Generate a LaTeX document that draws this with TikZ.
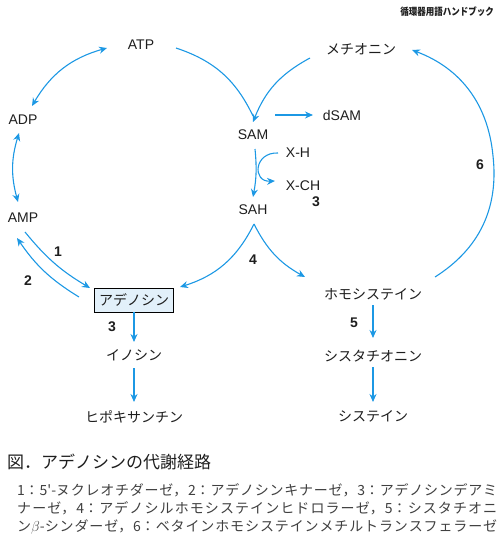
\documentclass[tikz,border=0pt]{standalone}
\usepackage{fontspec}
\usetikzlibrary{arrows.meta}
\setmainfont{Liberation Sans}
\newfontfamily\jpfont{Noto Sans CJK JP}
\XeTeXlinebreaklocale "ja"
\XeTeXlinebreakskip=0pt plus 1pt
\definecolor{flowblue}{RGB}{28,152,228}
\definecolor{boxblue}{RGB}{226,240,250}
\definecolor{ink}{RGB}{30,30,30}
\begin{document}
\begin{tikzpicture}
    [x=1pt,y=-1pt,
     mol/.style={font=\fontsize{14}{16}\selectfont,text=ink,inner sep=2pt},
     jmol/.style={font=\jpfont\fontsize{14}{16}\selectfont,text=ink,inner sep=2pt},
     enz/.style={font=\bfseries\fontsize{14}{16}\selectfont,text=ink,inner sep=1pt},
     capline/.style={font=\jpfont\fontsize{14}{16}\selectfont,text=ink!85,anchor=west,inner sep=0pt},
     link/.style={draw=flowblue,line width=1.1pt},
     flow/.style={link,-{Stealth[length=8pt,width=7pt]}},
     dflow/.style={link,{Stealth[length=8pt,width=7pt]}-{Stealth[length=8pt,width=7pt]}}]

    \useasboundingbox (0,0) rectangle (500,540);

    \foreach \name/\x/\y in {ATP/141/45, ADP/23/120, AMP/23/218, SAM/253/135, dSAM/342/115, SAH/253/210}
      \node[mol] (\name) at (\x,\y) {\name};
    \node[mol] (XH) at (298,153) {X-H};
    \node[mol] (XCH) at (303,186) {X-CH};

    \foreach \name/\x/\y/\text in {MET/361/49/メチオニン, HCY/373/294/ホモシステイン, CTH/373/356/シスタチオニン,
                                   CYS/373/416/システイン, INO/134/355/イノシン, HYP/134/417/ヒポキサンチン}
      \node[jmol] (\name) at (\x,\y) {\text};
    \node[jmol,draw=black,line width=1pt,fill=boxblue,minimum width=79pt,minimum height=24pt,inner sep=0pt]
      (ADO) at (134,300) {アデノシン};

    \foreach \x/\y/\n [count=\i] in {58/252/1, 28/281/2, 112/327/3, 316/202/3, 253/260/4, 354/323/5, 480/165/6}
      \node[enz] (E\i) at (\x,\y) {\n};

    % left cycle
    \draw[dflow] ([shift={(-34,3)}]ATP.center) to[bend right=22] ([shift={(9,-14)}]ADP.center);
    \draw[dflow] ([shift={(-4,13)}]ADP.center) to[bend right=16] ([shift={(-5,-16)}]AMP.center);
    \draw[flow] ([shift={(2,14)}]AMP.center) to[bend right=10] ([shift={(-44,-12)}]ADO.center);
    \draw[flow] ([shift={(-55,-3)}]ADO.center) to[bend left=12] ([shift={(-6,20)}]AMP.center);
    \draw[flow] ([shift={(1,14)}]SAH.center) to[bend left=23] ([shift={(46,-13)}]ADO.center);
    \draw[link] ([shift={(35,3)}]ATP.center) to[bend left=23] ([shift={(0,-19)}]SAM.center);

    % right cycle
    \draw[flow] ([shift={(-51,9)}]MET.center) to[bend right=20] ([shift={(0,-13)}]SAM.center);
    \draw[flow] ([shift={(1,14)}]SAH.center) to[bend right=17] ([shift={(-68,-17)}]HCY.center);
    \coordinate (rim) at (493,156);
    \draw[flow] ([shift={(62,-17)}]HCY.center) to[bend right=32] (rim) to[bend right=32] ([shift={(51,1)}]MET.center);

    \draw[flow] ([shift={(2,14)}]SAM.center) to[bend left=8] ([shift={(0,-13)}]SAH.center);
    \draw[flow] ([shift={(22,-20)}]SAM.center) -- ([shift={(-29,0)}]dSAM.center);
    \draw[flow] ([shift={(-20,0)}]XH.center) .. controls +(-24,-1) and +(-23,1) .. ([shift={(-28,-5)}]XCH.center);

    \foreach \from/\to/\s/\e in {ADO/INO/12/-13, INO/HYP/13/-15, HCY/CTH/11/-18, CTH/CYS/11/-14}
      \draw[flow] ([shift={(0,\s)}]\from.center) -- ([shift={(0,\e)}]\to.center);

    \node[font=\jpfont\bfseries\fontsize{10}{12}\selectfont,text=ink,anchor=east,inner sep=0pt]
      (book) at (494,12) {\scalebox{0.85}[1]{循環器用語ハンドブック}};

    \node[font=\jpfont\fontsize{17}{20}\selectfont,text=ink,anchor=west,inner sep=0pt]
      (title) at (7,462) {図．アデノシンの代謝経路};
    \foreach \y/\txt [count=\i] in {490/{1：5'-ヌクレオチダーゼ，2：アデノシンキナーゼ，3：アデノシンデアミ},
                                    508/{ナーゼ，4：アデノシルホモシステインヒドロラーゼ，5：シスタチオニ},
                                    527/{ン$\beta$-シンダーゼ，6：ベタインホモシステインメチルトランスフェラーゼ}}
      \node[capline] (note\i) at (17,\y) {\parbox{480pt}{\parindent=0pt\parfillskip=0pt\relax\txt}};
\end{tikzpicture}
\end{document}
